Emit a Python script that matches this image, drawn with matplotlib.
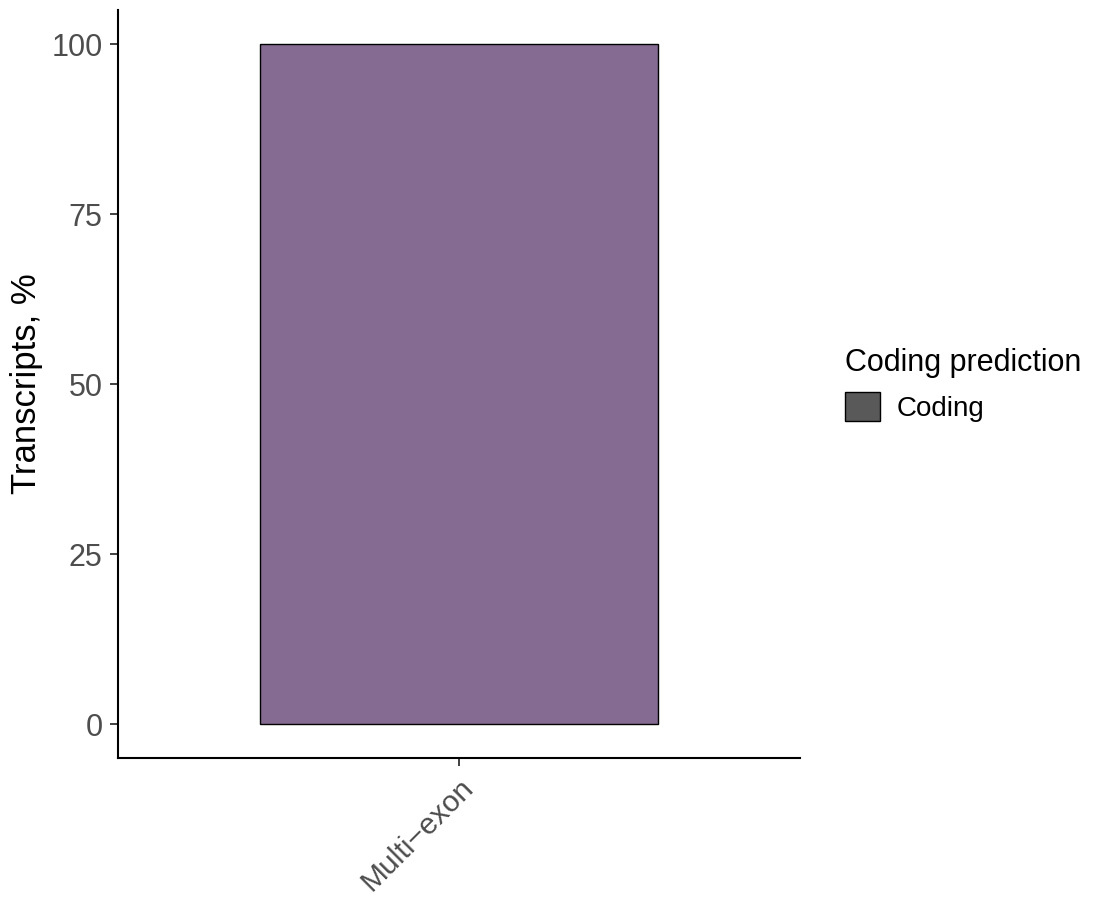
import matplotlib
matplotlib.use("Agg")
import matplotlib.pyplot as plt
from matplotlib.patches import Patch

plt.rcParams['font.family'] = ['Liberation Sans', 'DejaVu Sans']

categories = ["Multi\u2212exon"]
values = [100]
legend_title = "Coding prediction"
legend_labels = ["Coding"]
bar_color = "#856B91"
legend_color = "#595959"

fig = plt.figure(figsize=(10.98, 8.99), dpi=100)
ax = fig.add_axes([118/1098, 1-758/899, (800-118)/1098, (758-10)/899])

x = list(range(1, len(categories)+1))
ax.bar(x, values, width=0.7, color=bar_color, edgecolor="black", linewidth=1.0, zorder=2)
ax.set_xlim(0.4, len(categories)+0.6)
ax.set_ylim(-5, 105)
ax.set_yticks([0, 25, 50, 75, 100])
ax.set_xticks(x)
ax.set_xticklabels(categories, rotation=45, ha="right", rotation_mode="anchor")
for s in ["top", "right"]:
    ax.spines[s].set_visible(False)
for s in ["left", "bottom"]:
    ax.spines[s].set_linewidth(1.5)
ax.tick_params(axis="both", length=6, width=1.3, color="#333333", labelcolor="#4D4D4D",
               labelsize=22, pad=5)
ax.tick_params(axis="x", pad=5, labelsize=21.5)
ax.set_ylabel("Transcripts, %", fontsize=25, color="black", labelpad=6)

handles = [Patch(facecolor=legend_color, edgecolor="black", linewidth=1.0)]
leg = fig.legend(handles, legend_labels, title=legend_title, loc="center left",
                 bbox_to_anchor=(820/1098, 1-385/899), frameon=False, fontsize=20,
                 title_fontsize=22, handlelength=1.25, handleheight=1.25, handletextpad=0.6,
                 alignment="left")
fig.savefig("out.png", dpi=100)
